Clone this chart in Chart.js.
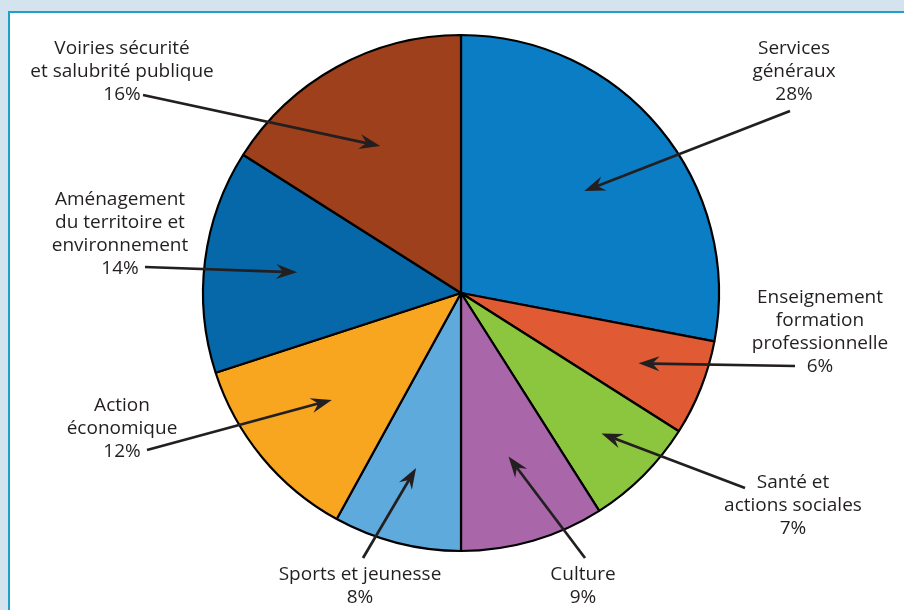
<!DOCTYPE html>
<html><head><meta charset="utf-8">
<script src="https://cdn.jsdelivr.net/npm/chart.js@4.4.0/dist/chart.umd.min.js"></script>
<style>
html,body{margin:0;padding:0;width:904px;height:610px;overflow:hidden;background:#d4e4ee;}
#panel{position:absolute;left:8px;top:11px;width:896px;height:599px;background:#fff;border-left:2px solid #1fa0c8;border-top:2px solid #1fa0c8;box-sizing:border-box;}
#wrap{position:absolute;left:0;top:0;width:904px;height:610px;}
</style></head>
<body>
<div id="panel"></div>
<div id="wrap"><canvas id="c" width="904" height="610"></canvas></div>
<script>
// ---- data ----
const categories = [
  ["Services", "généraux"],
  ["Enseignement", "formation", "professionnelle"],
  ["Santé et", "actions sociales"],
  ["Culture"],
  ["Sports et jeunesse"],
  ["Action", "économique"],
  ["Aménagement", "du territoire et", "environnement"],
  ["Voiries sécurité", "et salubrité publique"]
];
const shares = [28, 6, 7, 9, 8, 12, 14, 16];
const colors = ["#0a7dc5", "#e05a34", "#8cc63f", "#a966a9", "#5eaadd", "#f8a51f", "#0667a9", "#9d401b"];

// ---- label layout (relative to pie centre, px) ----
// lx,ly: label centre x / first line y ; tx,ty: arrow tail ; tipR: arrow tip radius fraction
const labelLayout = [
  {lx: 333, ly: -244, tx: 329, ty: -182, tipR: 0.62},
  {lx: 359, ly: 5,    tx: 334, ty: 73,   tipR: 0.74},
  {lx: 332, ly: 190,  tx: 284, ty: 195,  tipR: 0.77},
  {lx: 122, ly: 282,  tx: 124, ty: 265,  tipR: 0.66},
  {lx: -101, ly: 282, tx: -98, ty: 265,  tipR: 0.70},
  {lx: -339, ly: 113, tx: -314, ty: 157, tipR: 0.65},
  {lx: -341, ly: -93, tx: -316, ty: -26, tipR: 0.64},
  {lx: -339, ly: -244, tx: -318, ty: -198, tipR: 0.65}
];
const lineH = 22.8;
const ink = "#231f20";

const arrowLabels = {
  id: "arrowLabels",
  afterDraw(chart) {
    const ctx = chart.ctx;
    const meta = chart.getDatasetMeta(0);
    ctx.save();
    meta.data.forEach((arc, i) => {
      const L = labelLayout[i];
      const cx = arc.x, cy = arc.y;
      const mid = (arc.startAngle + arc.endAngle) / 2;
      const tipx = cx + Math.cos(mid) * arc.outerRadius * L.tipR;
      const tipy = cy + Math.sin(mid) * arc.outerRadius * L.tipR;
      const tx = cx + L.tx, ty = cy + L.ty;
      const ang = Math.atan2(tipy - ty, tipx - tx);
      const len = 21, hw = 7.5, notch = 14;
      const ux = Math.cos(ang), uy = Math.sin(ang);
      const nx = -uy, ny = ux;
      // shaft
      ctx.strokeStyle = ink; ctx.lineWidth = 2.7; ctx.lineCap = "butt";
      ctx.beginPath(); ctx.moveTo(tx, ty);
      ctx.lineTo(tipx - ux * notch, tipy - uy * notch); ctx.stroke();
      // head
      ctx.fillStyle = ink;
      ctx.beginPath();
      ctx.moveTo(tipx, tipy);
      ctx.lineTo(tipx - ux * len + nx * hw, tipy - uy * len + ny * hw);
      ctx.lineTo(tipx - ux * notch, tipy - uy * notch);
      ctx.lineTo(tipx - ux * len - nx * hw, tipy - uy * len - ny * hw);
      ctx.closePath(); ctx.fill();
      // text
      const lines = categories[i].concat([shares[i] + "%"]);
      ctx.font = "19px 'Open Sans'";
      ctx.textAlign = "center"; ctx.textBaseline = "middle";
      ctx.fillStyle = ink;
      lines.forEach((t, k) => ctx.fillText(t, cx + L.lx, cy + L.ly + k * lineH));
    });
    ctx.restore();
  }
};

new Chart(document.getElementById("c"), {
  type: "pie",
  data: {
    labels: categories.map(c => c.join(" ")),
    datasets: [{
      data: shares,
      backgroundColor: colors,
      borderColor: "#000",
      borderWidth: 2.2,
      borderAlign: "center",
      hoverOffset: 0
    }]
  },
  options: {
    responsive: false,
    animation: false,
    devicePixelRatio: 1,
    radius: 258,
    layout: {padding: {left: 18, right: 0, top: 0, bottom: 24}},
    plugins: {legend: {display: false}, tooltip: {enabled: false}},
    events: []
  },
  plugins: [arrowLabels]
});
</script>
</body></html>
